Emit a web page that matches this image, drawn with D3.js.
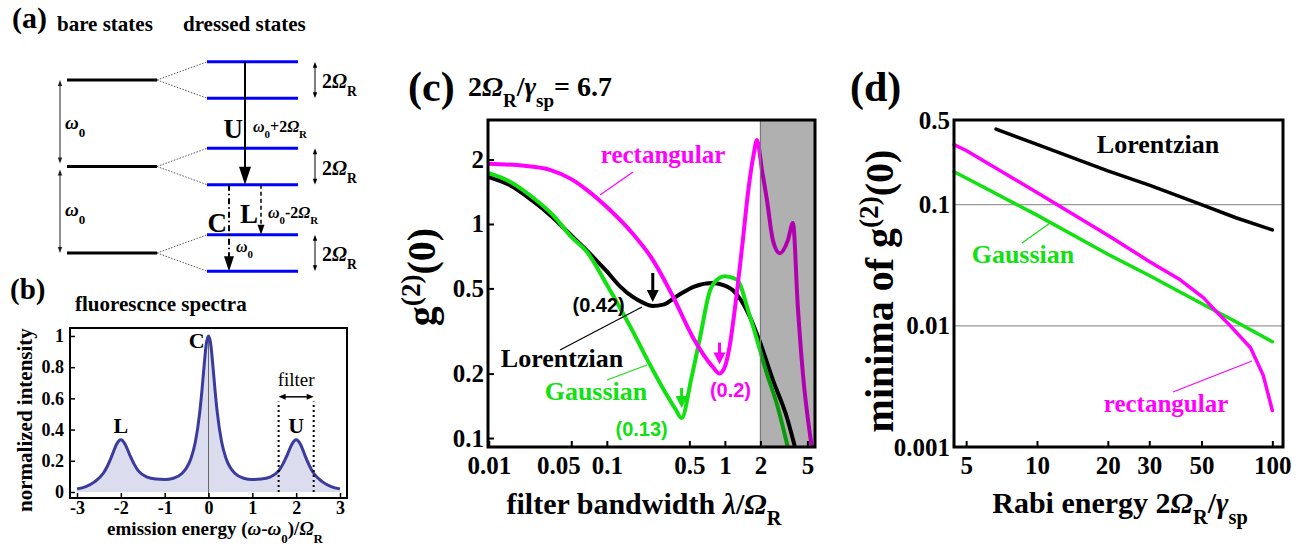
<!DOCTYPE html>
<html>
<head>
<meta charset="utf-8">
<script src="https://cdn.jsdelivr.net/npm/d3@7"></script>
<style>
body { margin: 0; background: #fff; }
svg text { font-family: "Liberation Serif", "Times New Roman", serif; font-weight: bold; }
svg text.sans { font-family: "Liberation Sans", Arial, sans-serif; }
svg text.plain { font-weight: normal; }
</style>
</head>
<body>
<svg id="fig" width="1310" height="545"></svg>
<script>
// ---- (a) energy ladder: bare levels (units of w0) and dressed splitting
const bareLevels = [0, 1, 2]
const dressedSplit = 0.21

// ---- (b) fluorescence spectrum (Mollow triplet)
const specX = [-3, -2.8, -2.6, -2.4, -2.3, -2.2, -2.1, -2, -1.9, -1.8, -1.7, -1.6, -1.4, -1.2, -1, -0.8, -0.6, -0.5, -0.4, -0.3, -0.2, -0.15, -0.1, -0.05, 0,
  0.05, 0.1, 0.15, 0.2, 0.3, 0.4, 0.5, 0.6, 0.8, 1, 1.2, 1.4, 1.6, 1.7, 1.8, 1.9, 2, 2.1, 2.2, 2.3, 2.4, 2.6, 2.8, 3]
const specY = [0.02, 0.035, 0.065, 0.12, 0.17, 0.235, 0.305, 0.335, 0.305, 0.24, 0.18, 0.135, 0.095, 0.083, 0.08, 0.088, 0.12, 0.155, 0.215, 0.32, 0.51, 0.65, 0.81, 0.95, 1.0,
  0.95, 0.81, 0.65, 0.51, 0.32, 0.215, 0.155, 0.12, 0.088, 0.08, 0.083, 0.095, 0.135, 0.18, 0.24, 0.305, 0.335, 0.305, 0.235, 0.17, 0.12, 0.065, 0.035, 0.02]
const specPeaks = [{x: -2, y: 0.38, t: "L"}, {x: -0.27, y: 0.92, t: "C"}, {x: 2, y: 0.38, t: "U"}]
const filterBand = [1.6, 2.4]
const bXTicks = [-3, -2, -1, 0, 1, 2, 3]
const bYTicks = [0, 0.2, 0.4, 0.6, 0.8, 1]

// ---- (c) g2(0) vs filter bandwidth, 2W/g = 6.7
const lorX = [0.00985, 0.015, 0.0236, 0.035, 0.0516, 0.075, 0.1, 0.13, 0.166, 0.2, 0.245, 0.3, 0.392, 0.55, 0.79, 1.0, 1.17, 1.63, 1.94, 2.55, 3.35, 3.92, 4.3]
const lorY = [1.66, 1.52, 1.28, 1.07, 0.87, 0.71, 0.6, 0.51, 0.456, 0.43, 0.414, 0.42, 0.46, 0.51, 0.53, 0.515, 0.49, 0.368, 0.29, 0.187, 0.125, 0.091, 0.075]
const gauX = [0.00985, 0.015, 0.0236, 0.035, 0.05, 0.068, 0.1, 0.122, 0.166, 0.218, 0.3, 0.38, 0.43, 0.52, 0.61, 0.75, 0.9, 1.0, 1.26, 1.63, 2.27, 2.8, 3.42, 3.8]
const gauY = [1.73, 1.58, 1.33, 1.1, 0.87, 0.74, 0.52, 0.43, 0.315, 0.235, 0.17, 0.137, 0.124, 0.19, 0.287, 0.49, 0.56, 0.57, 0.55, 0.37, 0.2, 0.14, 0.09, 0.07]
const recX = [0.00985, 0.02, 0.033, 0.05, 0.068, 0.1, 0.166, 0.245, 0.365, 0.535, 0.79, 0.9, 1.0, 1.1, 1.2, 1.42, 1.57, 1.75, 1.87, 2.06, 2.27, 2.55, 2.92, 3.42, 3.77, 4.15, 4.58, 5.45, 5.7]
const recY = [1.91, 1.87, 1.79, 1.62, 1.44, 1.2, 0.9, 0.68, 0.456, 0.296, 0.215, 0.2, 0.215, 0.27, 0.38, 0.84, 1.4, 2.1, 2.47, 1.79, 1.3, 0.84, 0.73, 0.84, 1.01, 0.41, 0.2, 0.09, 0.075]
const cMinima = [
  {x: 0.245, y: 0.414, label: "(0.42)", color: "#000"},
  {x: 0.43, y: 0.124, label: "(0.13)", color: "#11e011"},
  {x: 0.9, y: 0.2, label: "(0.2)", color: "#ff00ff"}
]
const cutoff = 2
const cXTicks = [0.01, 0.05, 0.1, 0.5, 1, 2, 5]
const cXLabels = ["0.01", "0.05", "0.1", "0.5", "1", "2", "5"]
const cYTicks = [0.1, 0.2, 0.5, 1, 2]
const cYLabels = ["0.1", "0.2", "0.5", "1", "2"]

// ---- (d) minima of g2(0) vs Rabi energy
const dLorX = [6.7, 10, 20, 30, 50, 70, 100]
const dLorY = [0.42, 0.315, 0.19, 0.145, 0.1, 0.078, 0.062]
const dGauX = [4.44, 5, 10, 20, 30, 50, 70, 100]
const dGauY = [0.187, 0.166, 0.082, 0.039, 0.026, 0.0153, 0.0108, 0.0074]
const dRecX = [4.44, 5, 10, 20, 30, 40.6, 50.9, 58, 66.3, 80.8, 91.5, 100]
const dRecY = [0.313, 0.28, 0.126, 0.056, 0.034, 0.024, 0.0171, 0.013, 0.01, 0.0066, 0.0039, 0.002]
const dXTicks = [5, 10, 20, 30, 50, 100]
const dYTicks = [0.001, 0.01, 0.1, 0.5]
const dYLabels = ["0.001", "0.01", "0.1", "0.5"]
const dGrid = [0.01, 0.1]

const GREEN = "#11e011", MAGENTA = "#ff00ff"

const svg = d3.select("#fig")

// text with italic / sub / sup pieces: [text, "it sub sup"]
function rich(sel, parts) {
  parts.forEach(p => {
    const [txt, st] = typeof p === "string" ? [p, ""] : p
    const s = sel.append("tspan").text(txt)
    const flags = st.split(" ")
    if (flags.includes("it")) s.attr("font-style", "italic")
    if (flags.includes("sub")) s.attr("baseline-shift", "sub").attr("font-size", "68%")
    if (flags.includes("sup")) s.attr("baseline-shift", "super").attr("font-size", "68%")
  })
  return sel
}
function label(g, x, y, size, parts, anchor) {
  const t = g.append("text").attr("x", x).attr("y", y).attr("font-size", size)
    .attr("text-anchor", anchor || "start")
  return rich(t, parts)
}
// filled triangular head, tip at (x,y), pointing along angle (radians)
function head(g, x, y, ang, len, half, color) {
  const c = Math.cos(ang), s = Math.sin(ang)
  const bx = x - c * len, by = y - s * len
  g.append("path")
    .attr("d", `M${x},${y}L${bx - s * half},${by + c * half}L${bx + s * half},${by - c * half}Z`)
    .attr("fill", color || "#000")
}
function vArrow(g, x, y0, y1, o) {
  o = o || {}
  const dir = y1 > y0 ? Math.PI / 2 : -Math.PI / 2
  const sign = y1 > y0 ? 1 : -1
  g.append("line").attr("x1", x).attr("x2", x).attr("y1", y0).attr("y2", y1 - sign * (o.len || 8) * 0.8)
    .attr("stroke", o.color || "#000").attr("stroke-width", o.w || 1).attr("stroke-dasharray", o.dash || null)
  head(g, x, y1, dir, o.len || 8, o.half || 3, o.color)
}
function dblArrow(g, x, y0, y1, color) {
  g.append("line").attr("x1", x).attr("x2", x).attr("y1", y0 + 4).attr("y2", y1 - 4)
    .attr("stroke", color).attr("stroke-width", 1)
  head(g, x, y0, -Math.PI / 2, 6, 2.2, color)
  head(g, x, y1, Math.PI / 2, 6, 2.2, color)
}

// ================= (a) =================
const gA = svg.append("g")
label(gA, 12, 28, 30, ["(a)"])
label(gA, 57, 31, 21, ["bare states"])
label(gA, 183, 31, 21, ["dressed states"])

const yE = d3.scaleLinear().domain([0, 2]).range([253, 80])
const bareX = [67, 157], dresX = [207, 298]

bareLevels.forEach(e => {
  gA.append("line").attr("x1", bareX[0]).attr("x2", bareX[1]).attr("y1", yE(e)).attr("y2", yE(e))
    .attr("stroke", "#000").attr("stroke-width", 3)
  ;[1, -1].forEach(sg => {
    const yd = yE(e + sg * dressedSplit)
    gA.append("line").attr("x1", dresX[0]).attr("x2", dresX[1]).attr("y1", yd).attr("y2", yd)
      .attr("stroke", "#0000ff").attr("stroke-width", 3)
    gA.append("line").attr("x1", bareX[1]).attr("x2", dresX[0]).attr("y1", yE(e)).attr("y2", yd)
      .attr("stroke", "#555").attr("stroke-width", 1).attr("stroke-dasharray", "1.5,1.5")
  })
  // 2 Omega_R splitting marker
  dblArrow(gA, 315, yE(e + dressedSplit), yE(e - dressedSplit), "#000")
  label(gA, 322, yE(e) + 8, 20, ["2", ["Ω", "it"], ["R", "sub"]])
})
// omega_0 spacings
;[[2, 1], [1, 0]].forEach(([a, b], i) => {
  dblArrow(gA, 60, yE(a) + (i ? 3 : 0), yE(b) - (i ? 0 : 3), "#222")
  label(gA, 65, (yE(a) + yE(b)) / 2 + 6, 19, [["ω", "it"], ["0", "sub"]])
})
// transitions
vArrow(gA, 245, yE(2 + dressedSplit), yE(1 - dressedSplit), {w: 2, len: 18, half: 6})
label(gA, 243, 138, 27, ["U"], "end")
label(gA, 253, 132, 16, [["ω", "it"], ["0", "sub"], "+2", ["Ω", "it"], ["R", "sub"]])
vArrow(gA, 229, yE(1 - dressedSplit), yE(0 - dressedSplit), {w: 2, len: 15, half: 5, dash: "6,3,1.5,3"})
label(gA, 227, 232, 27, ["C"], "end")
label(gA, 236, 252, 16, [["ω", "it"], ["0", "sub"]])
vArrow(gA, 261, yE(1 - dressedSplit), yE(0 + dressedSplit), {w: 1.5, len: 10, half: 3.5, dash: "4,3"})
label(gA, 258, 223, 27, ["L"], "end")
label(gA, 268, 218, 16, [["ω", "it"], ["0", "sub"], "-2", ["Ω", "it"], ["R", "sub"]])

// ================= (b) =================
const gB = svg.append("g")
label(gB, 10, 299, 29, ["(b)"])
label(gB, 75, 311, 21, ["fluorescnce spectra"])

const xB = d3.scaleLinear().domain([-3.16, 3.16]).range([70, 347])
const yB = d3.scaleLinear().domain([-0.0385, 1.051]).range([498, 328])
const spec = specX.map((x, i) => ({x, y: specY[i]}))

gB.append("path").datum(spec)
  .attr("d", d3.area().x(d => xB(d.x)).y0(yB(0)).y1(d => yB(d.y)).curve(d3.curveMonotoneX))
  .attr("fill", "#dcdcef")
gB.append("line").attr("x1", xB(0)).attr("x2", xB(0)).attr("y1", yB(-0.0385)).attr("y2", yB(1))
  .attr("stroke", "#666").attr("stroke-width", 1)
gB.append("path").datum(spec)
  .attr("d", d3.line().x(d => xB(d.x)).y(d => yB(d.y)).curve(d3.curveMonotoneX))
  .attr("fill", "none").attr("stroke", "#3b3b9e").attr("stroke-width", 3)

specPeaks.forEach(p => {
  label(gB, xB(p.x), yB(p.y), 22, [p.t], "middle")
})
filterBand.forEach(f => {
  gB.append("line").attr("x1", xB(f)).attr("x2", xB(f)).attr("y1", yB(0)).attr("y2", yB(0.58))
    .attr("stroke", "#000").attr("stroke-width", 2).attr("stroke-dasharray", "2,3")
})
{
  const ya = yB(0.61), x0 = xB(filterBand[0]), x1 = xB(filterBand[1])
  gB.append("line").attr("x1", x0 + 5).attr("x2", x1 - 5).attr("y1", ya).attr("y2", ya)
    .attr("stroke", "#000").attr("stroke-width", 1.5)
  head(gB, x0, ya, Math.PI, 7, 3)
  head(gB, x1, ya, 0, 7, 3)
  gB.append("text").attr("class", "plain").attr("x", (x0 + x1) / 2).attr("y", ya - 11).attr("font-size", 19)
    .attr("text-anchor", "middle").text("filter")
}

const axB = gB.append("g").attr("transform", "translate(0,498)")
  .call(d3.axisBottom(xB).tickValues(bXTicks).tickFormat(d => d).tickSizeInner(-5).tickSizeOuter(0).tickPadding(3))
const ayB = gB.append("g").attr("transform", "translate(70,0)")
  .call(d3.axisLeft(yB).tickValues(bYTicks).tickFormat(d => d).tickSizeInner(-5).tickSizeOuter(0).tickPadding(6))
;[axB, ayB].forEach(a => {
  a.select(".domain").remove()
  a.selectAll("line").attr("stroke-width", 1.5)
  a.selectAll("text").attr("font-size", 18).attr("fill", "#000")
})
gB.append("rect").attr("x", 70).attr("y", 328).attr("width", 277).attr("height", 170)
  .attr("fill", "none").attr("stroke", "#000").attr("stroke-width", 2)
label(gB, 215, 535, 19, ["emission energy (", ["ω", "it"], "-", ["ω", "it"], ["0", "sub"], ")/", ["Ω", "it"], ["R", "sub"]], "middle")
label(gB, 0, 0, 21, ["normalized intensity"], "middle").attr("transform", "translate(32,420) rotate(-90)")

// ================= (c) =================
const gC = svg.append("g")
label(gC, 408, 101, 42, ["(c)"])
label(gC, 468, 96, 28, ["2", ["Ω", "it"], ["R", "sub"], "/", ["γ", "it"], ["sp", "sub"], "= 6.7"])

const xC = d3.scaleLog().domain([0.00985, 5.8]).range([488, 815])
const yC = d3.scaleLog().domain([0.0908, 3.06]).range([447, 120])
svg.append("defs").append("clipPath").attr("id", "clipC")
  .append("rect").attr("x", 488).attr("y", 120).attr("width", 327).attr("height", 327)
const lineC = d3.line().x(d => xC(d[0])).y(d => yC(d[1])).curve(d3.curveMonotoneX)
const plotC = gC.append("g").attr("clip-path", "url(#clipC)")
;[[lorX, lorY, "#000"], [gauX, gauY, GREEN], [recX, recY, MAGENTA]].forEach(([xs, ys, col]) => {
  plotC.append("path").datum(xs.map((x, i) => [x, ys[i]]))
    .attr("d", lineC).attr("fill", "none").attr("stroke", col).attr("stroke-width", 4)
    .attr("stroke-linejoin", "round")
})
// region beyond the filter cutoff
plotC.append("rect").attr("x", xC(cutoff)).attr("y", 120).attr("width", 815 - xC(cutoff)).attr("height", 327)
  .attr("fill", "#000").attr("fill-opacity", 0.31)
plotC.append("line").attr("x1", xC(cutoff)).attr("x2", xC(cutoff)).attr("y1", 120).attr("y2", 447)
  .attr("stroke", "#777").attr("stroke-width", 1.2)

// minima arrows and values
const minOffs = [[4, 29, -28, 6], [10, 20, -40, 18], [9, 22, 11, 23]]
cMinima.forEach((m, i) => {
  const [gap, len, dx, dy] = minOffs[i]
  const px = xC(m.x), py = yC(m.y)
  vArrow(gC, px, py - gap - len, py - gap, {w: 3, len: 12, half: 6, color: m.color})
  gC.append("text").attr("class", "sans").attr("x", px + dx).attr("y", py + dy).attr("font-size", 20)
    .attr("fill", m.color).attr("text-anchor", i === 0 ? "end" : "middle").text(m.label)
})
// series names with leaders
gC.append("line").attr("x1", 600).attr("y1", 195).attr("x2", 633).attr("y2", 172).attr("stroke", MAGENTA).attr("stroke-width", 1.2)
gC.append("text").attr("x", 663).attr("y", 163).attr("font-size", 25).attr("fill", MAGENTA).attr("text-anchor", "middle").text("rectangular")
gC.append("line").attr("x1", 560).attr("y1", 350).attr("x2", 642).attr("y2", 307).attr("stroke", "#000").attr("stroke-width", 1.2)
gC.append("text").attr("x", 562).attr("y", 367).attr("font-size", 26).attr("fill", "#000").attr("text-anchor", "middle").text("Lorentzian")
gC.append("line").attr("x1", 607).attr("y1", 380).attr("x2", 647).attr("y2", 365).attr("stroke", GREEN).attr("stroke-width", 1.2)
gC.append("text").attr("x", 596).attr("y", 400).attr("font-size", 26).attr("fill", GREEN).attr("text-anchor", "middle").text("Gaussian")

const axC = gC.append("g").attr("transform", "translate(0,447)")
  .call(d3.axisBottom(xC).tickValues(cXTicks).tickFormat((d, i) => cXLabels[i]).tickSizeInner(-6).tickSizeOuter(0).tickPadding(9))
const ayC = gC.append("g").attr("transform", "translate(488,0)")
  .call(d3.axisLeft(yC).tickValues(cYTicks).tickFormat((d, i) => cYLabels[i]).tickSizeInner(-6).tickSizeOuter(0).tickPadding(4))
;[axC, ayC].forEach(a => {
  a.select(".domain").remove()
  a.selectAll("line").attr("stroke-width", 2)
  a.selectAll("text").attr("font-size", 25).attr("fill", "#000")
})
// 0.05 and 0.1 sit close together, the original nudges 0.05 to the left
axC.selectAll(".tick text").filter(d => d === 0.05).attr("dx", -13)
gC.append("rect").attr("x", 488).attr("y", 120).attr("width", 327).attr("height", 327)
  .attr("fill", "none").attr("stroke", "#000").attr("stroke-width", 3)
label(gC, 644, 514, 30, ["filter bandwidth ", ["λ", "it"], "/", ["Ω", "it"], ["R", "sub"]], "middle")
label(gC, 0, 0, 40, ["g", ["(2)", "sup"], "(0)"], "middle").attr("transform", "translate(435,277) rotate(-90)")

// ================= (d) =================
const gD = svg.append("g")
label(gD, 850, 101, 42, ["(d)"])
const xD = d3.scaleLog().domain([4.44, 111]).range([954, 1283])
const yD = d3.scaleLog().domain([0.001, 0.5]).range([447, 120])
dGrid.forEach(v => {
  gD.append("line").attr("x1", 954).attr("x2", 1283).attr("y1", yD(v)).attr("y2", yD(v))
    .attr("stroke", "#999").attr("stroke-width", 1.2)
})
const lineD = d3.line().x(d => xD(d[0])).y(d => yD(d[1]))
;[[dLorX, dLorY, "#000"], [dGauX, dGauY, GREEN], [dRecX, dRecY, MAGENTA]].forEach(([xs, ys, col]) => {
  gD.append("path").datum(xs.map((x, i) => [x, ys[i]]))
    .attr("d", lineD).attr("fill", "none").attr("stroke", col).attr("stroke-width", 3.5)
    .attr("stroke-linejoin", "round").attr("stroke-linecap", "round")
})
gD.append("text").attr("x", 1158).attr("y", 153).attr("font-size", 26).attr("text-anchor", "middle").text("Lorentzian")
gD.append("line").attr("x1", 1022).attr("y1", 243).attr("x2", 1050).attr("y2", 223).attr("stroke", GREEN).attr("stroke-width", 1.2)
gD.append("text").attr("x", 1023).attr("y", 263).attr("font-size", 26).attr("fill", GREEN).attr("text-anchor", "middle").text("Gaussian")
gD.append("line").attr("x1", 1173).attr("y1", 392).attr("x2", 1252).attr("y2", 361).attr("stroke", MAGENTA).attr("stroke-width", 1.2)
gD.append("text").attr("x", 1166).attr("y", 412).attr("font-size", 25).attr("fill", MAGENTA).attr("text-anchor", "middle").text("rectangular")

const axD = gD.append("g").attr("transform", "translate(0,447)")
  .call(d3.axisBottom(xD).tickValues(dXTicks).tickFormat(d => d).tickSizeInner(-6).tickSizeOuter(0).tickPadding(9))
const ayD = gD.append("g").attr("transform", "translate(954,0)")
  .call(d3.axisLeft(yD).tickValues(dYTicks).tickFormat((d, i) => dYLabels[i]).tickSizeInner(0).tickSizeOuter(0).tickPadding(4))
;[axD, ayD].forEach(a => {
  a.select(".domain").remove()
  a.selectAll("line").attr("stroke-width", 2)
  a.selectAll("text").attr("font-size", 25).attr("fill", "#000")
})
gD.append("rect").attr("x", 954).attr("y", 120).attr("width", 329).attr("height", 327)
  .attr("fill", "none").attr("stroke", "#000").attr("stroke-width", 3)
label(gD, 1120, 513, 30, ["Rabi energy 2", ["Ω", "it"], ["R", "sub"], "/", ["γ", "it"], ["sp", "sub"]], "middle")
label(gD, 0, 0, 40, ["minima of g", ["(2)", "sup"], "(0)"], "middle").attr("transform", "translate(893,291) rotate(-90)")
</script>
</body>
</html>
